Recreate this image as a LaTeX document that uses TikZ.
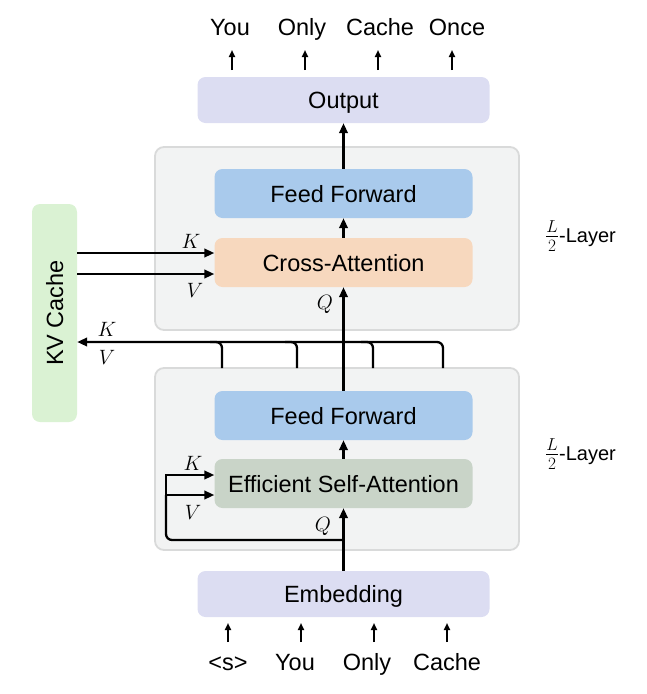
\documentclass[tikz,border=0pt]{standalone}
\usepackage{fontspec}
\setmainfont{Liberation Sans}
\usetikzlibrary{arrows.meta,calc}
\definecolor{lav}{HTML}{DCDDF2}
\definecolor{layerfill}{HTML}{F2F3F3}
\definecolor{layerdraw}{HTML}{D9DADA}
\definecolor{ffc}{HTML}{A9CAEC}
\definecolor{cac}{HTML}{F7D8BE}
\definecolor{esac}{HTML}{C9D4C8}
\definecolor{kvc}{HTML}{DAF2D3}
\begin{document}
\begin{tikzpicture}[x=1pt,y=-1pt,
  txt/.style={font=\fontsize{23.5}{28}\selectfont},
  tok/.style={txt, inner sep=0pt, anchor=base},
  lbl/.style={font=\fontsize{22}{26}\selectfont, inner sep=0pt},
  blk/.style={txt, rounded corners=8pt, inner sep=0pt, anchor=center, text height=17pt, text depth=0pt},
  layerbox/.style={draw=layerdraw, line width=1.8pt, fill=layerfill, rounded corners=9pt, inner sep=0pt},
  laylbl/.style={font=\fontsize{20}{24}\selectfont, anchor=west, inner sep=0pt},
  arr/.style={line width=2.3pt, -{Triangle[length=10pt,width=8.5pt]}},
  thin/.style={line width=2pt, -{Triangle[length=7pt,width=6pt]}},
  ln/.style={line width=2.3pt}]
\useasboundingbox (0,0) rectangle (647,694);
% layer boxes
\node[layerbox, minimum width=364pt, minimum height=183pt] (upper) at (337,238.5) {};
\node[layerbox, minimum width=364pt, minimum height=182pt] (lower) at (337,459) {};
% blocks
\node[blk, fill=lav, minimum width=292pt, minimum height=46pt] (out) at (343.5,100) {Output};
\node[blk, fill=ffc, minimum width=258pt, minimum height=49pt] (ffU) at (343.5,193.5) {Feed Forward};
\node[blk, fill=cac, minimum width=258pt, minimum height=49pt] (ca) at (343.5,262.5) {Cross-Attention};
\node[blk, fill=ffc, minimum width=258pt, minimum height=49pt] (ffL) at (343.5,415.5) {Feed Forward};
\node[blk, fill=esac, minimum width=258pt, minimum height=49pt] (esa) at (343.5,483.5) {Efficient Self-Attention};
\node[blk, fill=lav, minimum width=292pt, minimum height=46pt] (emb) at (343.5,594) {Embedding};
\node[blk, fill=kvc, minimum width=45pt, minimum height=218pt] (kv) at (54.5,313) {};
\node[txt, rotate=90, text height=17pt, text depth=0pt, inner sep=0pt] (kvt) at (kv.center) {KV Cache};
% layer labels
\node[laylbl] (lu) at (545,236) {{\fontsize{26}{30}\selectfont$\frac{L}{2}$}-Layer};
\node[laylbl] (ll) at (545,454) {{\fontsize{26}{30}\selectfont$\frac{L}{2}$}-Layer};
% output tokens
\foreach \x/\w/\n in {230/You/o1, 302/Only/o2, 380/Cache/o3, 457/Once/o4}{
  \node[tok] (\n) at (\x,35) {\w};
}
\foreach \x in {232, 305, 378, 452}{
  \draw[thin] (\x,70) -- (\x,50);
}
% input tokens
\foreach \x/\w/\n in {228/{<s>}/i1, 295/You/i2, 367/Only/i3, 447/Cache/i4}{
  \node[tok] (\n) at (\x,670) {\w};
}
\foreach \x in {228, 301, 374, 447}{
  \draw[thin] (\x,642) -- (\x,623);
}
% main flow
\draw[arr] (ffU.north) -- (out.south);
\draw[arr] (ca.north) -- (ffU.south);
\draw[arr] (ffL.north) -- (ca.south);
\draw[arr] (esa.north) -- (ffL.south);
\draw[arr] (emb.north) -- (esa.south);
% KV cache into cross attention
\coordinate (ck) at ([yshift=9.5pt]ca.west);
\coordinate (cv) at ([yshift=-11.5pt]ca.west);
\draw[arr] (kv.east |- ck) -- (ck);
\draw[arr] (kv.east |- cv) -- (cv);
\node[lbl] (lk1) at (191,241) {$K$};
\node[lbl] (lv1) at (195,290) {$V$};
\node[lbl] (lq1) at (325,304) {$Q$};
% KV return path
\coordinate (r4) at (443,342);
\coordinate (r4b) at (443,368);
\draw[arr, rounded corners=6pt] (r4b) -- (r4) -- (kv.east |- r4);
\foreach \x in {222, 297, 373}{
  \draw[ln, rounded corners=6pt] (\x,368) -- (\x,342) -- (\x-12,342);
}
\node[lbl] (lk2) at (107,329) {$K$};
\node[lbl] (lv2) at (107,357) {$V$};
% self-attention loop
\coordinate (sk) at ([yshift=8.5pt]esa.west);
\coordinate (sv) at ([yshift=-11.5pt]esa.west);
\coordinate (sj) at (343.5,540);
\coordinate (lp) at (166,540);
\draw[ln, rounded corners=6pt] (sj) -- (lp) -- (lp |- sv);
\draw[arr] (lp |- sv) -- (sv);
\draw[arr] (lp |- sv) -- (lp |- sk) -- (sk);
\node[lbl] (lk3) at (193,463) {$K$};
\node[lbl] (lv3) at (193,512) {$V$};
\node[lbl] (lq3) at (323,526) {$Q$};
\end{tikzpicture}
\end{document}
